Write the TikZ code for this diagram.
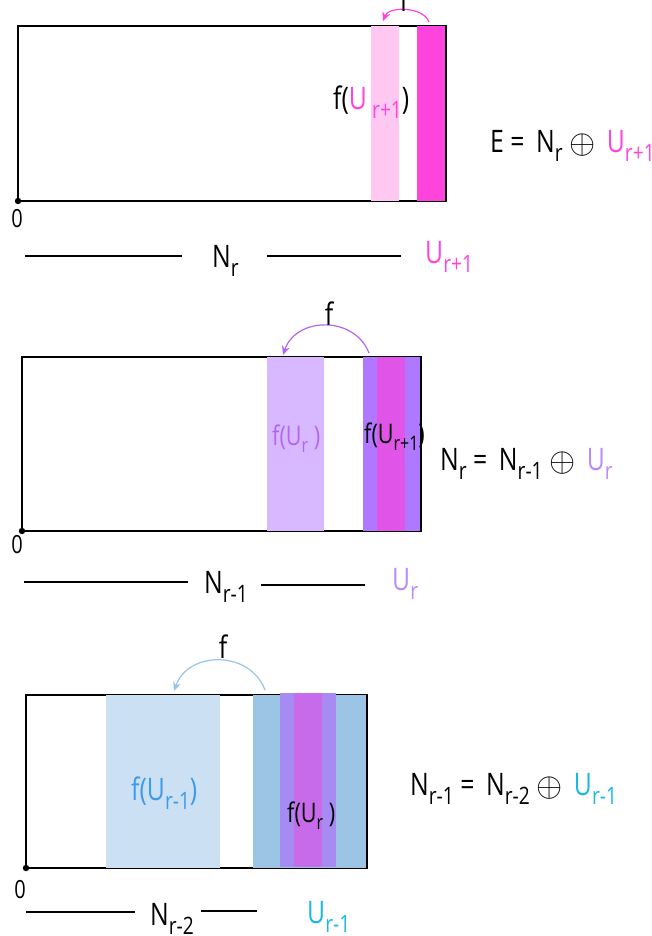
\documentclass[tikz,border=0pt]{standalone}
\usepackage{fontspec}
\setmainfont[FakeStretch=0.8]{Open Sans}
\usetikzlibrary{arrows.meta}

\definecolor{pinkLight}{HTML}{FFC8F0}
\definecolor{pinkDark}{HTML}{FF44DD}
\definecolor{lavender}{HTML}{D8B8FF}
\definecolor{violet}{HTML}{B077FF}
\definecolor{magentaMid}{HTML}{E055E8}
\definecolor{purpleText}{HTML}{B266F5}
\definecolor{purpleLight}{HTML}{B98AFF}
\definecolor{skyLight}{HTML}{CCE0F4}
\definecolor{skyMid}{HTML}{9CC4E4}
\definecolor{violetB}{HTML}{A78AF2}
\definecolor{magentaB}{HTML}{C86BEB}
\definecolor{skyArrow}{HTML}{99C4EA}
\definecolor{blueText}{HTML}{3D9BE9}
\definecolor{cyanText}{HTML}{1AB8E8}

\newcommand{\lo}[1]{\raisebox{-9pt}{\fontsize{24}{26}\selectfont #1}}
\newcommand{\los}[1]{\raisebox{-7pt}{\fontsize{20}{22}\selectfont #1}}
\newcommand{\dsum}{\raisebox{-1pt}{\scalebox{1.35}{$\oplus$}}}

\begin{document}
\begin{tikzpicture}[x=1pt, y=1pt, frame/.style={line width=1.4pt}, fmap/.style={-{Stealth[length=9pt, width=8pt, inset=3pt]}, line width=1.2pt, bend right=70}, txt/.style={font=\fontsize{31}{34}\selectfont, inner sep=0pt}, txts/.style={font=\fontsize{27}{30}\selectfont, inner sep=0pt}, zero/.style={font=\fontsize{25}{27}\selectfont, inner sep=0pt, anchor=base}, rule/.style={line width=1.4pt}]
\useasboundingbox (0,0) rectangle (652,-936);

% top panel: E
\draw[frame] (18,-26) rectangle (446,-201);
\fill[pinkLight] (371,-26) rectangle (399,-201); \fill[pinkDark] (417,-26) rectangle (445,-201);
\coordinate (srcA) at (429,-22); \coordinate (dstA) at (383,-21);
\draw[fmap, pinkDark, looseness=0.9] (srcA) to (dstA);
\node[txt, anchor=base] (fA) at (404,-12) {f};
\node[txt, anchor=base west] (imA) at (333,-110) {f(\textcolor{pinkDark}{U\,\lo{r+1}})};
\node[txt, anchor=base west] (eqA) at (490,-153) {E = \,N\lo{r} \dsum{} \,\textcolor{pinkDark}{U\lo{r+1}}};
\fill (18,-201) circle (3.2); \node[zero] (zA) at (17,-227) {0};
\node[txt, anchor=base west] (nA) at (212,-267) {N\lo{r}};
\node[txt, anchor=base west, text=pinkDark] (uA) at (425,-263) {U\lo{r+1}};
\coordinate (lA1) at (25,-256); \coordinate (lA2) at (182,-256); \coordinate (lA3) at (267,-256); \coordinate (lA4) at (401,-256);
\draw[rule] (lA1) -- (lA2); \draw[rule] (lA3) -- (lA4);

% middle panel: N_r
\draw[frame] (22,-357) rectangle (421,-531);
\fill[lavender] (267,-357) rectangle (324,-531);
\fill[violet] (363,-357) rectangle (420,-531); \fill[magentaMid] (377,-357) rectangle (405,-531);
\coordinate (srcB) at (369,-353); \coordinate (dstB) at (283,-355);
\draw[fmap, purpleText, looseness=1.2] (srcB) to (dstB);
\node[txt, anchor=base] (fB) at (329,-325) {f};
\node[txts, anchor=base west, text=purpleText] (imB) at (272,-445) {f(U\los{r} )};
\node[txts, anchor=base west] (imB2) at (364,-443) {f(U\los{r+1})};
\node[txt, anchor=base west] (eqB) at (440,-470) {N\lo{r} = \,N\lo{r-1} \dsum{} \,\textcolor{purpleLight}{U\lo{r}}};
\fill (22,-531) circle (3.2); \node[zero] (zB) at (17,-553) {0};
\node[txt, anchor=base west] (nB) at (204,-593) {N\lo{r-1}};
\node[txt, anchor=base west, text=purpleLight] (uB) at (392,-590) {U\lo{r}};
\coordinate (lB1) at (24,-582); \coordinate (lB2) at (188,-582); \coordinate (lB3) at (261,-585); \coordinate (lB4) at (365,-585);
\draw[rule] (lB1) -- (lB2); \draw[rule] (lB3) -- (lB4);

% bottom panel: N_{r-1}
\draw[frame] (26,-695) rectangle (367,-868);
\fill[skyLight] (106,-695) rectangle (220,-868);
\fill[skyMid] (253,-695) rectangle (366,-868);
\fill[violetB] (280,-693) rectangle (336,-867); \fill[magentaB] (294,-693) rectangle (322,-867);
\coordinate (srcC) at (265,-690); \coordinate (dstC) at (174,-691);
\draw[fmap, skyArrow, looseness=1.2] (srcC) to (dstC);
\node[txt, anchor=base] (fC) at (223,-658) {f};
\node[txt, anchor=base west, text=blueText] (imC) at (131,-800) {f(U\lo{r-1})};
\node[txts, anchor=base west] (imC2) at (287,-822) {f(U\los{r} )};
\node[txt, anchor=base west] (eqC) at (410,-795) {N\lo{r-1} = \,N\lo{r-2} \dsum{} \,\textcolor{cyanText}{U\lo{r-1}}};
\fill (26,-868) circle (3.2); \node[zero] (zC) at (20,-898) {0};
\node[txt, anchor=base west] (nC) at (150,-925) {N\lo{r-2}};
\node[txt, anchor=base west, text=cyanText] (uC) at (307,-923) {U\lo{r-1}};
\coordinate (lC1) at (26,-912); \coordinate (lC2) at (135,-912); \coordinate (lC3) at (201,-911); \coordinate (lC4) at (257,-911);
\draw[rule] (lC1) -- (lC2); \draw[rule] (lC3) -- (lC4);
\end{tikzpicture}
\end{document}
